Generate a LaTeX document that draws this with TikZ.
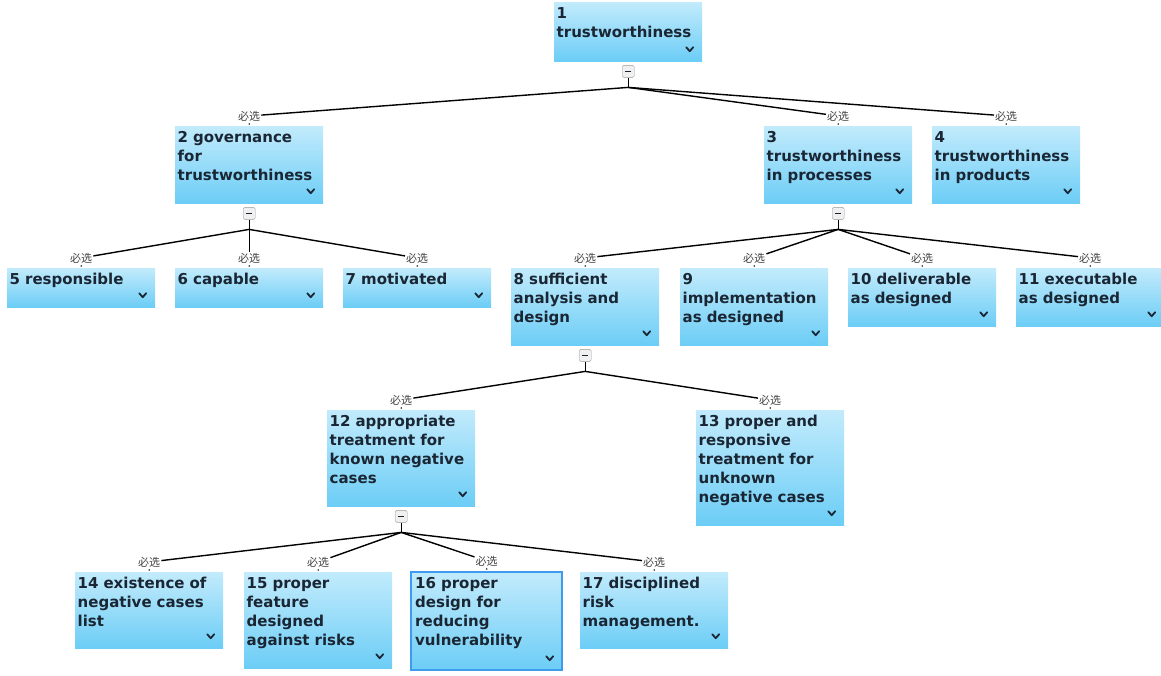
\documentclass[tikz,border=0pt]{standalone}
\usepackage{fontspec}
\setmainfont{DejaVu Sans}
\newfontfamily\cjk{Noto Sans CJK SC}
\usetikzlibrary{backgrounds}
\definecolor{boxtop}{HTML}{C2EBFC}
\definecolor{boxbot}{HTML}{6CCDF6}
\definecolor{ink}{HTML}{1A2633}
\definecolor{selblue}{HTML}{3D9BF0}

\begin{document}
\begin{tikzpicture}[x=1pt,y=-1pt,
    topic/.style={anchor=north west,minimum width=147,text width=143,align=left,
      inner xsep=2.5,inner ysep=4,minimum height=#1,text height=12,text depth=#1-20,
      top color=boxtop,bottom color=boxbot,text=ink,
      font=\fontsize{15}{19}\selectfont\bfseries,
      path picture={\draw[ink,line width=1.8,line cap=round,line join=round]
        ([shift={(-16,-14)}]path picture bounding box.south east) -- ++(3.5,4) -- ++(3.5,-4);}},
    btn/.style={draw=black!40,fill=black!6,rounded corners=1.5,minimum size=12,inner sep=0,
      path picture={\draw[ink,line width=1.4]
        ([xshift=-3]path picture bounding box.center) -- ++(6,0);}},
    req/.style={font=\cjk\fontsize{11}{11}\selectfont,text=black!75,inner sep=1},
    wire/.style={line width=1.4,black}]
  \useasboundingbox (0,0) rectangle (1161,675);

  % root and first level
  \node[topic=59] (n1)  at (554,2)   {1\\trustworthiness};
  \node[topic=77] (n2)  at (175,126) {2 governance\\for\\trustworthiness};
  \node[topic=77] (n3)  at (764,126) {3\\trustworthiness\\in processes};
  \node[topic=77] (n4)  at (932,126) {4\\trustworthiness\\in products};

  % second level
  \node[topic=39] (n5)  at (7,268)    {5 responsible};
  \node[topic=39] (n6)  at (175,268)  {6 capable};
  \node[topic=39] (n7)  at (343,268)  {7 motivated};
  \node[topic=77] (n8)  at (511,268)  {8 sufficient\\analysis and\\design};
  \node[topic=77] (n9)  at (680,268)  {9\\implementation\\as designed};
  \node[topic=58] (n10) at (848,268)  {10 deliverable\\as designed};
  \node[topic=58] (n11) at (1016,268) {11 executable\\as designed};

  % third level
  \node[topic=96]  (n12) at (327,410) {12 appropriate\\treatment for\\known negative\\cases};
  \node[topic=115] (n13) at (696,410) {13 proper and\\responsive\\treatment for\\unknown\\negative cases};

  % fourth level
  \node[topic=76] (n14) at (75,572)  {14 existence of\\negative cases\\list};
  \node[topic=96] (n15) at (244,572) {15 proper\\feature\\designed\\against risks};
  \node[topic=98,minimum width=151,draw=selblue,line width=2.4] (n16) at (410,571)
    {16 proper\\design for\\reducing\\vulnerability};
  \node[topic=76] (n17) at (580,572) {17 disciplined\\risk\\management.};

  % tags above the children
  \foreach \n in {2,...,17} {
    \node[req] (r\n) at ([yshift=10]n\n.north) {必选};
    \fill[ink] ([yshift=2]n\n.north) circle (0.9);
  }

  % collapse buttons and branch points
  \foreach \n in {1,2,3,8,12} {
    \node[btn] (b\n) at ([yshift=-10]n\n.south) {};
    \coordinate (j\n) at ([yshift=-26]n\n.south);
  }

  \begin{scope}[on background layer]
    \foreach \p in {1,2,3,8,12}
      \draw[wire] (b\p) -- (j\p);
    \foreach \p/\c in {1/2,1/3,1/4,2/5,2/6,2/7,3/8,3/9,3/10,3/11,
                       8/12,8/13,12/14,12/15,12/16,12/17}
      \draw[wire] (j\p) -- (r\c);
  \end{scope}
\end{tikzpicture}
\end{document}
